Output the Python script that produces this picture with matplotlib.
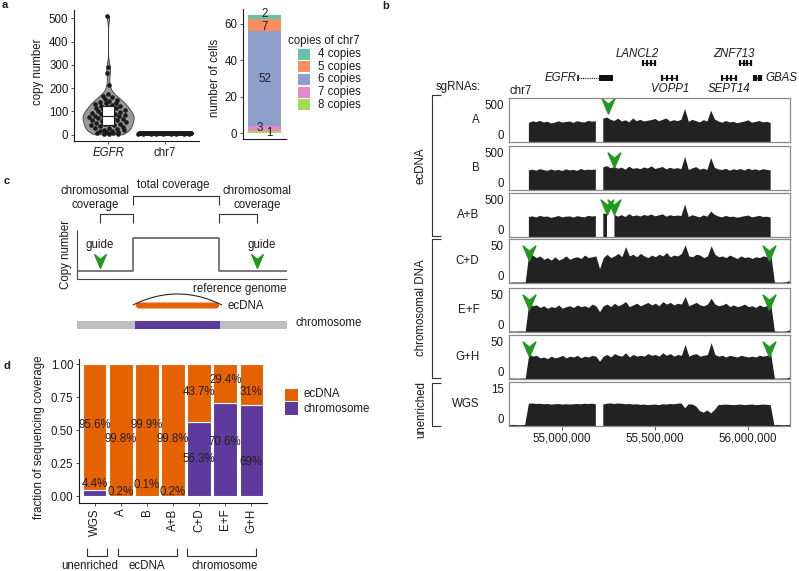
import numpy as np
import matplotlib
matplotlib.use("Agg")
import matplotlib.pyplot as plt
from matplotlib.path import Path
from matplotlib.patches import Rectangle, FancyBboxPatch

plt.rcParams['font.family'] = ['Liberation Sans', 'DejaVu Sans']
nan = np.nan

# ======================= DATA =======================
# --- panel a: copy numbers of single cells
egfr_copy = [510, 293, 264, 213,
             176, 168, 160, 155, 150, 146, 142, 138, 135, 131, 128, 125,
             122, 119, 116, 113, 110, 107, 104, 101, 98, 95, 92, 90, 87, 85, 83, 80,
             79, 77, 75, 73, 71, 69, 67, 65, 62, 59, 56, 53, 50, 47, 44, 42,
             40, 37, 34, 31, 28, 25, 22, 20, 18, 15, 13, 11, 9, 7, 5, 3, 2]
violin_cats = ['EGFR', 'chr7']
chr7_levels = ['4 copies', '5 copies', '6 copies', '7 copies', '8 copies']
chr7_copy_values = [4, 5, 6, 7, 8]
chr7_cells = [2, 7, 52, 3, 1]
chr7_colors = ['#66C2A5', '#FC8D62', '#8DA0CB', '#E78AC3', '#A6D854']

# --- panel b: coverage tracks (20 kb bins starting at 54,702,000)
bin_start = 54_702_000
bin_size = 20_000
track_names = ['A', 'B', 'A+B', 'C+D', 'E+F', 'G+H', 'WGS']
cov_A = [nan] * 6 + [
    225, 245, 235, 250, 230, 240, 220, 228, 245, 230, 236, 242, 226, 246, 236, 230, 250, 240, 246,
    nan,
    275, 290, 262, 248, 276, 242, 256, 232, 278, 246,
    262, 242, 252, 258, 272, 246, 262, 278, 242, 258,
    246, 262, 390, 238, 262, 246, 232, 258, 242, 370,
    268, 242, 228, 248, 232, 238, 222, 232, 242, 256,
    228, 238, 248, 232, 238, 226] + [nan] * 6
cov_B = [nan] * 6 + [
    232, 240, 228, 246, 236, 226, 242, 230, 238, 224, 244, 232, 238, 226, 248, 234, 240, 236, 244,
    nan,
    268, 282, 258, 270, 252, 264, 240, 276, 250, 258,
    246, 266, 254, 280, 248, 260, 272, 244, 262, 250,
    258, 246, 392, 236, 256, 270, 240, 252, 236, 378,
    262, 244, 236, 252, 228, 244, 236, 248, 230, 252,
    236, 244, 230, 246, 238, 232] + [nan] * 6
cov_AB = [nan] * 6 + [
    236, 244, 230, 250, 238, 242, 226, 236, 248, 232, 240, 244, 230, 246, 238, 232, 250, 242, 248,
    nan, 280, 270, nan,
    262, 240, 258, 236, 270, 244, 256,
    242, 260, 250, 266, 244, 256, 268, 240, 258, 246,
    254, 248, 384, 236, 258, 244, 232, 256, 240, 300,
    262, 242, 232, 250, 236, 240, 228, 236, 246, 254,
    232, 240, 250, 236, 240, 230] + [nan] * 6
cov_CD = [1.2, 1.0, 1.3, 1.1, 1.2, 1.3,
    36, 33, 30, 32, 28, 30, 27, 31, 27, 29, 32, 28, 30, 31, 29, 33, 30, 31, 32,
    17,
    30, 34, 30, 32, 35, 31, 43, 32, 34, 31,
    35, 32, 30, 33, 31, 34, 32, 36, 31, 33,
    32, 35, 45, 32, 31, 34, 33, 30, 32, 44,
    34, 31, 32, 30, 33, 31, 29, 32, 30, 31,
    29, 31, 30, 32, 31, 35,
    1.2, 1.0, 1.1, 1.4, 2.6, 1.2]
cov_EF = [1.1, 1.2, 1.0, 1.2, 1.3, 1.1,
    35, 31, 32, 29, 31, 28, 30, 29, 32, 28, 30, 31, 29, 32, 30, 31, 29, 33, 31,
    24,
    31, 33, 30, 34, 31, 33, 36, 30, 32, 34,
    31, 33, 35, 32, 34, 31, 36, 33, 35, 32,
    34, 33, 42, 31, 33, 35, 32, 31, 33, 40,
    33, 31, 32, 34, 30, 32, 30, 31, 33, 30,
    31, 29, 32, 30, 31, 34,
    1.3, 1.1, 1.0, 1.2, 2.4, 1.1]
cov_GH = [1.0, 1.2, 1.1, 1.0, 1.2, 1.1,
    30, 27, 28, 25, 26, 24, 27, 25, 26, 28, 25, 27, 26, 28, 25, 27, 26, 28, 27,
    21,
    27, 29, 26, 30, 28, 27, 31, 26, 29, 27,
    28, 27, 30, 28, 29, 27, 31, 28, 30, 27,
    29, 28, 41, 27, 29, 30, 27, 28, 29, 43,
    29, 27, 28, 26, 28, 27, 26, 28, 27, 26,
    27, 26, 28, 27, 28, 30,
    1.1, 1.0, 1.2, 1.1, 2.2, 1.0]
cov_WGS = [0.3, 0.3, 0.4, 0.3, 0.3, 0.4,
    7.9, 8.0, 7.8, 7.9, 7.7, 7.8, 7.6, 7.7, 7.8, 7.6, 7.7, 7.6, 7.7, 7.8, 7.7, 7.9, 7.8, 7.9, 7.7,
    nan,
    7.6, 7.9, 8.0, 7.8, 8.0, 7.9, 7.7, 7.8, 7.6, 7.7,
    7.5, 7.6, 7.4, 7.5, 7.6, 7.4, 7.7, 7.6, 7.8, 7.7,
    7.9, 8.0, 6.3, 7.7, 7.6, 6.9, 5.3, 4.7, 5.5, 4.5,
    5.7, 7.4, 7.5, 7.6, 7.5, 7.4, 7.5, 7.6, 7.4, 7.5,
    7.6, 7.4, 7.5, 7.6, 7.5, 7.4,
    0.3, 0.4, 0.3, 0.3, 0.4, 0.3]
track_cov = [cov_A, cov_B, cov_AB, cov_CD, cov_EF, cov_GH, cov_WGS]
track_ymax = [500, 500, 500, 50, 50, 50, 15]
guide_sites = [[55_247_000], [55_280_000], [55_242_000, 55_280_000],
               [54_822_000, 56_113_000], [54_822_000, 56_113_000],
               [54_822_000, 56_113_000], []]
genome_ticks = [55_000_000, 55_500_000, 56_000_000]
gene_names = ['EGFR', 'LANCL2', 'VOPP1', 'SEPT14', 'ZNF713', 'GBAS']
gene_start = [55_086_725, 55_433_000, 55_538_000, 55_861_000, 55_957_000, 56_032_000]
gene_end = [55_275_031, 55_502_000, 55_620_000, 55_935_000, 56_016_000, 56_070_000]

# --- panel d
d_samples = ['WGS', 'A', 'B', 'A+B', 'C+D', 'E+F', 'G+H']
d_chromosome = [0.044, 0.002, 0.001, 0.002, 0.563, 0.706, 0.690]
d_ecdna = [0.956, 0.998, 0.999, 0.998, 0.437, 0.294, 0.310]

# ======================= LAYOUT / STYLE =======================
W, H = 799, 571
fig = plt.figure(figsize=(W / 100, H / 100), dpi=100)
FS = 8.3
TXT = '#1a1a1a'
ORANGE = '#E66100'
PURPLE = '#5D3A9B'
GREEN = '#1F9A1F'
arrow_path = Path([(0, -1), (-0.85, 1), (0, 0.3), (0.85, 1), (0, -1)],
                  [Path.MOVETO, Path.LINETO, Path.LINETO, Path.LINETO, Path.CLOSEPOLY])


def add_ax(x0, y0, x1, y1, **kw):
    return fig.add_axes([x0 / W, 1 - y1 / H, (x1 - x0) / W, (y1 - y0) / H], **kw)


def style_gg(ax):
    for s in ['top', 'right']:
        ax.spines[s].set_visible(False)
    for s in ['left', 'bottom']:
        ax.spines[s].set_linewidth(0.8)
        ax.spines[s].set_color('#1a1a1a')
    ax.tick_params(length=2.5, width=0.6, colors='#333333', labelsize=FS,
                   labelcolor=TXT, pad=1.5)


# ---------------- panel a: violin ----------------
axv = add_ax(74, 10, 199, 141)
style_gg(axv)
eg = np.asarray(egfr_copy, float)
chr7_copy = np.repeat(chr7_copy_values, chr7_cells).astype(float)
vp = axv.violinplot([eg, chr7_copy], positions=[1, 2], widths=[0.9, 1.0],
                    showextrema=False, bw_method=0.28)
for b in vp['bodies']:
    b.set_facecolor('#9A9A9A')
    b.set_edgecolor('#3a3a3a')
    b.set_linewidth(0.6)
    b.set_alpha(1)


def rel_density(v, bw):
    d = np.exp(-0.5 * ((v[:, None] - v[None, :]) / bw) ** 2).sum(1)
    return d / d.max()


phi = 0.6180339887
frac = (np.arange(len(eg)) * phi) % 1 - 0.5
dens = rel_density(eg, 0.28 * eg.std(ddof=1))
axv.scatter(1 + frac * 0.78 * 0.9 * dens, eg, s=11, color='#1a1a1a', lw=0, zorder=3)
frac2 = (np.arange(len(chr7_copy)) * phi) % 1 - 0.5
axv.scatter(2 + frac2 * 0.95, chr7_copy, s=11, color='#1a1a1a', lw=0, zorder=3)
axv.boxplot([eg, chr7_copy], positions=[1, 2], widths=0.22, patch_artist=True,
            showfliers=False, showcaps=False, whis=0, manage_ticks=False, zorder=4,
            boxprops=dict(facecolor='white', edgecolor='#1a1a1a', linewidth=0.8),
            medianprops=dict(color='#1a1a1a', linewidth=0.8),
            whiskerprops=dict(linewidth=0))
axv.set_xlim(0.4, 2.6)
axv.set_ylim(-27, 536)
axv.set_yticks([0, 100, 200, 300, 400, 500])
axv.set_xticks([1, 2])
axv.set_xticklabels(violin_cats)
axv.get_xticklabels()[0].set_style('italic')

# ---------------- panel a: stacked bar ----------------
axb = add_ax(243, 9, 286, 139)
style_gg(axb)
label_dx = [0, 0, 0, -0.13, 0.13]
label_dy = [1.6, -1.3, 0, 0.3, -0.3]
bottom = 0
for i in reversed(range(len(chr7_levels))):
    n = chr7_cells[i]
    axb.bar(1, n, bottom=bottom, width=0.9, color=chr7_colors[i], lw=0)
    axb.text(1 + label_dx[i], bottom + n / 2 + label_dy[i], str(n), ha='center', va='center',
             fontsize=FS, color='#1c1c30')
    bottom += n
axb.set_xlim(0.4, 1.6)
axb.set_ylim(-3.25, 68.25)
axb.set_yticks([0, 20, 40, 60])
axb.set_xticks([])

# ---------------- panel b: tracks ----------------
pos = bin_start + bin_size * np.arange(len(cov_A))
XL = (54_715_000, 56_226_000)
track_tops = [98, 146, 193, 239, 288, 335, 382]
track_h = 44
arrow_frac = [0.82, 0.69, 0.68, 0.69, 0.69, 0.69, 0.69]
track_axes = []
for k, name in enumerate(track_names):
    t = track_tops[k]
    ax = add_ax(509, t, 790, t + track_h)
    track_axes.append(ax)
    ymax = track_ymax[k]
    top = ymax * 1.04
    vals = np.asarray(track_cov[k], float)
    ax.fill_between(pos, 0, vals, color='#222222', lw=0)
    ax.set_xlim(*XL)
    ax.set_ylim(0, top)
    ax.set_yticks([])
    ax.set_xticks([])
    for s in ax.spines.values():
        s.set_color('#8a8a8a')
        s.set_linewidth(0.9)
    tr = ax.get_yaxis_transform()
    ax.text(-0.018, 0, '0', transform=tr, ha='right', va='bottom', fontsize=FS, color=TXT)
    ax.text(-0.018, ymax, str(ymax), transform=tr, ha='right', va='top', fontsize=FS, color=TXT)
    ax.text(-0.105, 0.5, name, transform=ax.transAxes, ha='right', va='center',
            fontsize=FS, color=TXT)
    for g in guide_sites[k]:
        ax.plot([g], [arrow_frac[k]], transform=ax.get_xaxis_transform(),
                marker=arrow_path, ms=10.8, color=GREEN, mec=GREEN, ls='none',
                clip_on=False, zorder=5)
axw = track_axes[-1]
axw.set_xticks(genome_ticks)
axw.set_xticklabels([f'{v:,}' for v in genome_ticks])
axw.tick_params(axis='x', length=3, width=0.6, colors='#444444', labelsize=FS,
                labelcolor=TXT, pad=2)

# gene annotation
axg = add_ax(509, 40, 790, 96)
axg.set_xlim(*XL)
axg.set_ylim(96, 40)
axg.axis('off')
gene_row = [78, 63, 78, 78, 63, 78]
gene_label = ['left', 'above', 'below', 'below', 'above', 'right']
for name, s, e, y, lab in zip(gene_names, gene_start, gene_end, gene_row, gene_label):
    if name == 'EGFR':
        axg.plot([s, 55_200_000], [y, y], ls=(0, (1, 1)), lw=0.8, color='#111111')
        axg.add_patch(Rectangle((55_200_000, y - 2.6), e - 55_200_000, 5.2, color='#111111', lw=0))
        axg.plot([s], [y], marker='|', ms=5, mew=1.2, color='#111111')
    else:
        axg.plot([s, e], [y, y], lw=0.8, color='#111111')
        xg = np.linspace(s, e, 4)
        axg.plot(xg, [y] * 4, marker='|', ms=5, mew=1.6, ls='none', color='#111111')
    if lab == 'left':
        axg.text(s - 8000, y, name, ha='right', va='center', style='italic', fontsize=FS, color=TXT)
    elif lab == 'right':
        axg.text(e + 25000, y, name, ha='left', va='center', style='italic', fontsize=FS,
                 color=TXT, clip_on=False)
    elif lab == 'above':
        axg.text(e + 20000, y - 9, name, ha='right', va='center', style='italic', fontsize=FS, color=TXT)
    else:
        axg.text((s + e) / 2, y + 11, name, ha='center', va='center', style='italic', fontsize=FS, color=TXT)

# ---------------- panel d ----------------
axd = add_ax(79, 359, 267, 503)
style_gg(axd)
xs = np.arange(1, len(d_samples) + 1)
axd.bar(xs, d_chromosome, width=0.9, color=PURPLE, edgecolor='white', lw=0.8)
axd.bar(xs, d_ecdna, bottom=d_chromosome, width=0.9, color=ORANGE, edgecolor='white', lw=0.8)
ec_label_y = [0.54, 0.435, 0.54, 0.435, 0.79, 0.88, 0.79]
ch_label_y = [0.09, 0.03, 0.085, 0.03, 0.28, 0.41, 0.26]
for i, x in enumerate(xs):
    axd.text(x, ec_label_y[i], f'{round(d_ecdna[i] * 100, 1):g}%', ha='center', va='center',
             fontsize=FS, color='#231F20')
    axd.text(x, ch_label_y[i], f'{round(d_chromosome[i] * 100, 1):g}%', ha='center', va='center',
             fontsize=FS, color='#231F20')
axd.set_xlim(0.4, 7.6)
axd.set_ylim(-0.053, 1.04)
axd.set_yticks([0, 0.25, 0.5, 0.75, 1.0])
axd.set_yticklabels(['0.00', '0.25', '0.50', '0.75', '1.00'])
axd.set_xticks(xs)
axd.set_xticklabels(d_samples, rotation=90, va='top', ha='center')

# ---------------- overlay (annotations, schematic c) ----------------
ov = fig.add_axes([0, 0, 1, 1])
ov.set_xlim(0, W)
ov.set_ylim(H, 0)
ov.axis('off')
ov.patch.set_alpha(0)


def T(x, y, s, **kw):
    kw.setdefault('fontsize', FS)
    kw.setdefault('color', TXT)
    kw.setdefault('ha', 'center')
    kw.setdefault('va', 'center')
    ov.text(x, y, s, **kw)


def L(xs_, ys_, **kw):
    kw.setdefault('color', '#333333')
    kw.setdefault('lw', 0.8)
    ov.plot(xs_, ys_, solid_capstyle='butt', **kw)


# panel letters
for lt, (x, y) in zip('abcd', [(2, 5), (382, 6), (4, 181), (3, 366)]):
    T(x, y, lt, fontweight='bold', ha='left', fontsize=8)

# panel a labels + legend
T(38, 72, 'copy number', rotation=90)
T(215, 78, 'number of cells', rotation=90)
T(288, 41, 'copies of chr7', ha='left')
for i, lev in enumerate(chr7_levels):
    y = 54 + i * 12.7
    ov.add_patch(Rectangle((298, y - 5.5), 12, 11, color=chr7_colors[i], lw=0))
    T(318, y, lev, ha='left')

# panel b labels
T(458, 87, 'sgRNAs:')
T(510, 91, 'chr7', ha='left')
for (y0, y1, lab, yl) in [(95, 236, 'ecDNA', 166), (239, 378, 'chromosomal DNA', 308),
                          (383, 426, 'unenriched', 410)]:
    L([441, 432, 432, 441], [y0, y0, y1, y1])
    T(421, yl, lab, rotation=90)

# panel c schematic
T(95, 191, 'chromosomal')
T(95, 205, 'coverage')
T(257, 191, 'chromosomal')
T(257, 205, 'coverage')
T(173, 185, 'total coverage')
L([100, 100, 133, 133], [223, 214, 214, 223])
L([133, 133, 219, 219], [205, 196, 196, 205])
L([219, 219, 257, 257], [223, 214, 214, 223])
L([77, 77, 287], [230, 279, 279], color='#444444')
L([77, 133, 133, 219, 219, 287], [271, 271, 238, 238, 271, 271], color='#555555', lw=1.1)
T(66, 254, 'Copy number', rotation=90)
T(100, 245, 'guide')
T(262, 245, 'guide')
ov.plot([100, 257], [261, 261], marker=arrow_path, ms=9.8, color=GREEN, ls='none')
T(240, 289, 'reference genome')
arc_x = np.linspace(133, 222, 60)
L(arc_x, 294 + 11 * ((arc_x - 177.5) / 44.5) ** 2, color='#222222', lw=0.8)
ov.add_patch(FancyBboxPatch((136, 302.5), 83, 6, boxstyle='round,pad=0,rounding_size=3',
                            color=ORANGE, lw=0))
T(228, 306, 'ecDNA', ha='left')
ov.add_patch(Rectangle((77, 321), 210, 8, color='#BEBEBE', lw=0))
ov.add_patch(Rectangle((135, 321), 85, 8, color=PURPLE, lw=0))
T(296, 323, 'chromosome', ha='left')

# panel d legend and labels
T(39, 437, 'fraction of sequencing coverage', rotation=90)
ov.add_patch(Rectangle((285, 389), 13, 12, color=ORANGE, lw=0))
ov.add_patch(Rectangle((285, 402), 13, 13, color=PURPLE, lw=0))
T(303, 394, 'ecDNA', ha='left')
T(303, 409, 'chromosome', ha='left')
for (x0, x1, lab, xl) in [(87, 107, 'unenriched', 90), (118, 177, 'ecDNA', 147),
                          (187, 256, 'chromosome', 225)]:
    L([x0, x0, x1, x1], [548, 556, 556, 548])
    T(xl, 566, lab)

fig.savefig('out.png', dpi=100)
